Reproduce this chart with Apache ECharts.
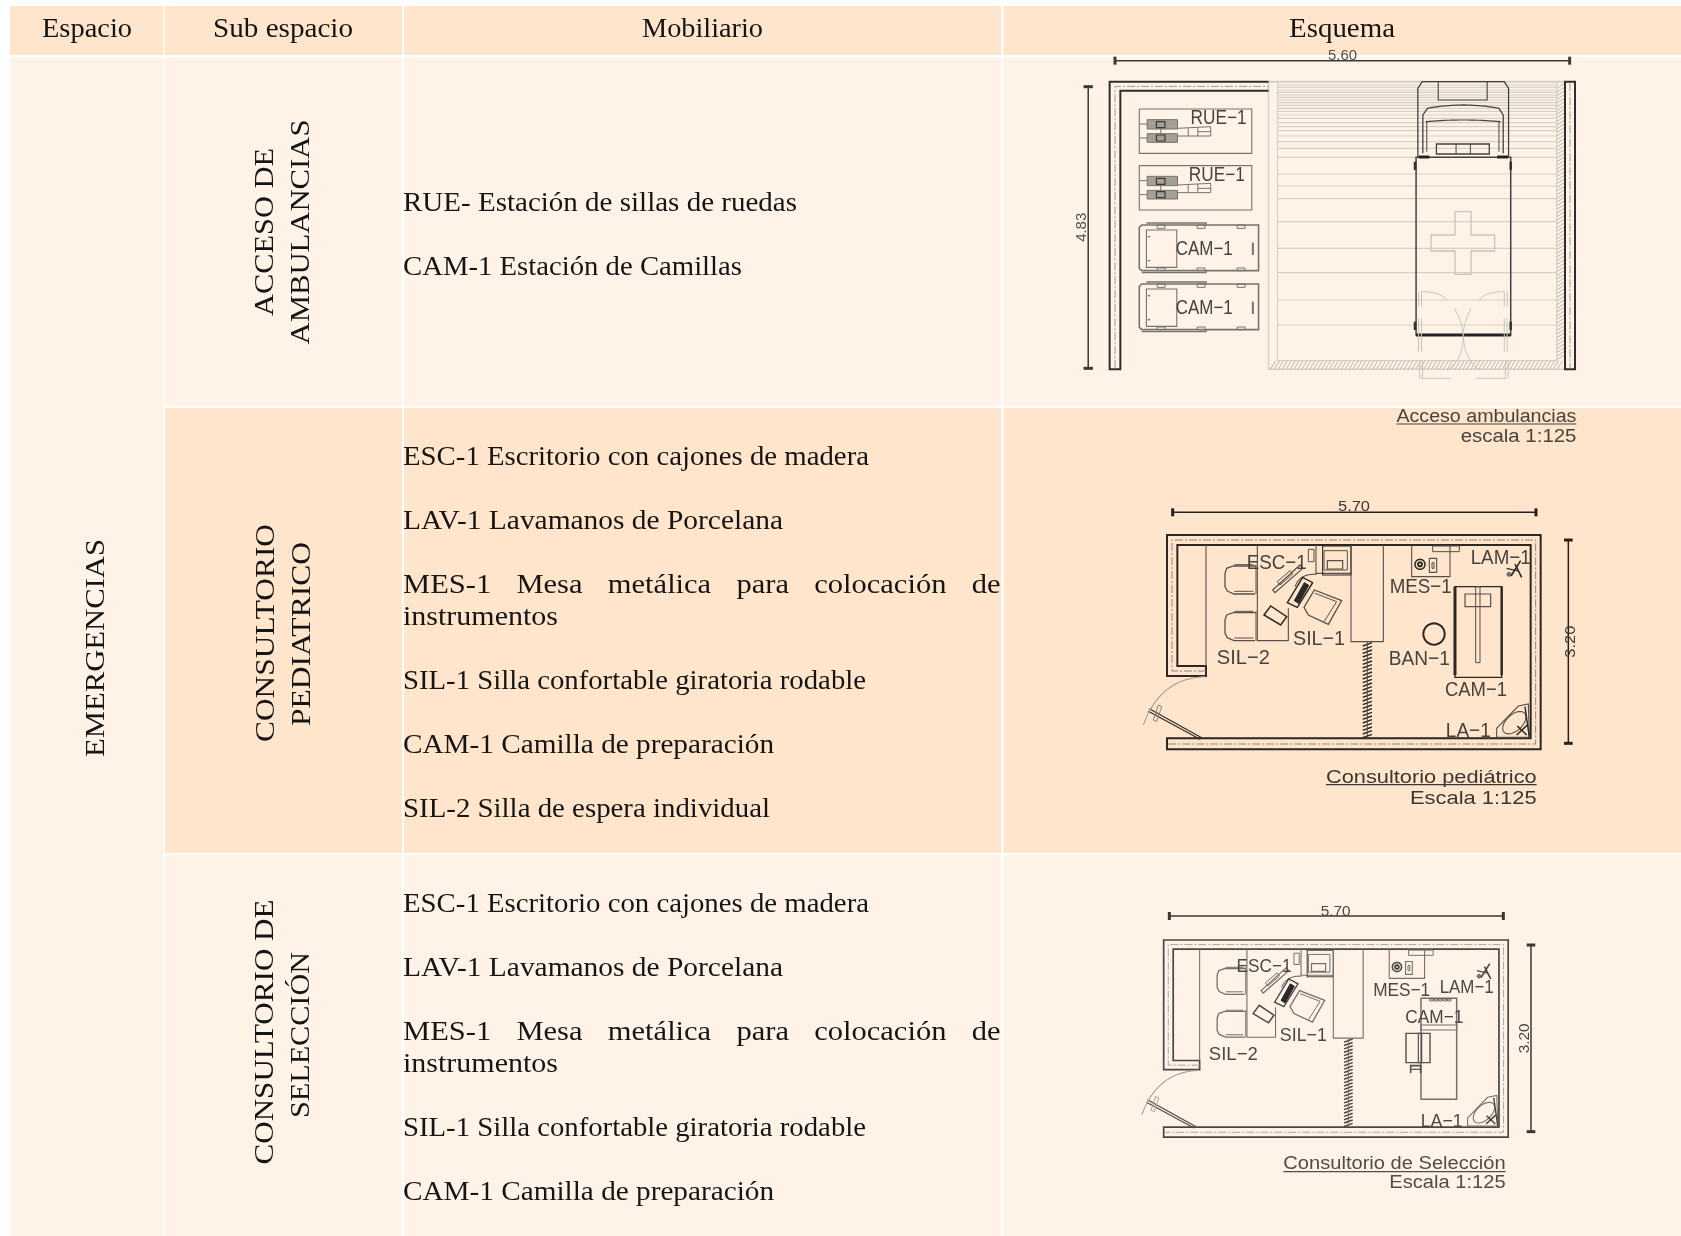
<!DOCTYPE html>
<html><head><meta charset="utf-8">
<style>html,body{margin:0;padding:0;background:#fff}#main{width:1681px;height:1236px;filter:blur(0.45px)}</style>
<script src="https://cdn.jsdelivr.net/npm/echarts@6/dist/echarts.min.js"></script>
</head><body><div id="main"></div>
<script>
// ---------- table content ----------
const columnTitles = ['Espacio', 'Sub espacio', 'Mobiliario', 'Esquema'];
const spaceName = 'EMERGENCIAS';
const subSpaceA = ['ACCESO DE', 'AMBULANCIAS'];
const subSpaceB = ['CONSULTORIO', 'PEDIATRICO'];
const subSpaceC = ['CONSULTORIO DE', 'SELECCIÓN'];
const furnitureA = ['RUE- Estación de sillas de ruedas', 'CAM-1 Estación de Camillas'];
const furnitureB = ['ESC-1 Escritorio con cajones de madera', 'LAV-1 Lavamanos de Porcelana',
  'MES-1 Mesa metálica para colocación de|instrumentos', 'SIL-1 Silla confortable giratoria rodable',
  'CAM-1 Camilla de preparación', 'SIL-2 Silla de espera individual'];
const furnitureC = ['ESC-1 Escritorio con cajones de madera', 'LAV-1 Lavamanos de Porcelana',
  'MES-1 Mesa metálica para colocación de|instrumentos', 'SIL-1 Silla confortable giratoria rodable',
  'CAM-1 Camilla de preparación'];
const captionA = ['Acceso ambulancias', 'escala 1:125'];
const captionB = ['Consultorio pediátrico', 'Escala 1:125'];
const captionC = ['Consultorio de Selección', 'Escala 1:125'];
const dimensionsA = ['5.60', '4.83'];
const dimensionsB = ['5.70', '3.20'];
const dimensionsC = ['5.70', '3.20'];

// ---------- scene buffers ----------
const HEAD = '#FFE5CC', LIGHT = '#FFF3E8';
const cells = [], strokes = [], texts = [];
const cv = document.createElement('canvas').getContext('2d');
function natural(t, font) { cv.font = font; return cv.measureText(t).width; }
const SERIF = '"Liberation Serif"', SANS = '"Liberation Sans"';
function put(t, x, y, o) {
  const size = o.size, fam = o.fam || SERIF, font = size + 'px ' + fam;
  const n = natural(t, font);
  texts.push({ t, x, y, font, sx: o.w ? o.w / n : (o.k || 1), rot: o.rot || 0,
    align: o.align || 'center', fill: o.fill || '#151515' });
}
function cell(x0, y0, x1, y1, fill) { cells.push({ x0, y0, x1, y1, fill }); }

// ---------- table ----------
const colL = [10, 165, 404, 1003.5], colR = [163.5, 402, 1001, 1681];
const headTop = 6, headBot = 55, bodyTop = 57.5;
const rowTop = [57.5, 408, 855], rowBot = [406, 853, 1236];
columnTitles.forEach((_, i) => cell(colL[i], headTop, colR[i], headBot, HEAD));
cell(colL[0], bodyTop, colR[0], 1236, LIGHT);
for (let c = 1; c < 4; c++) rowTop.forEach((t, r) => cell(colL[c], t, colR[c], rowBot[r], r === 1 ? HEAD : LIGHT));

const EM = 0.24, BODY = 27;
const headX = [87, 283, 702.5, 1342], headW = [90, 140, 121, 106];
columnTitles.forEach((t, i) => put(t, headX[i], 36 - EM * BODY, { size: BODY, w: headW[i] }));

function vertical(t, baseX, cy, len) { put(t, baseX - 0.33 * BODY, cy, { size: BODY, w: len, rot: Math.PI / 2 }); }
vertical(spaceName, 106, 648, 218);
vertical(subSpaceA[0], 275, 232, 168); vertical(subSpaceA[1], 311, 232, 225);
vertical(subSpaceB[0], 276, 633, 218); vertical(subSpaceB[1], 312, 634, 184);
vertical(subSpaceC[0], 275, 1032, 265); vertical(subSpaceC[1], 311, 1035, 166);

const LEFT = 403;
const lineWidths = {
  'RUE- Estación de sillas de ruedas': 394, 'CAM-1 Estación de Camillas': 339,
  'ESC-1 Escritorio con cajones de madera': 466, 'LAV-1 Lavamanos de Porcelana': 380,
  'instrumentos': 155, 'SIL-1 Silla confortable giratoria rodable': 463,
  'CAM-1 Camilla de preparación': 371, 'SIL-2 Silla de espera individual': 367
};
function furnitureColumn(list, firstBase) {
  let b = firstBase;
  list.forEach(entry => {
    const parts = entry.split('|');
    parts.forEach((line, li) => {
      const y = b - EM * BODY;
      if (parts.length > 1 && li === 0) {
        const words = line.split(' ');
        const font = BODY + 'px ' + SERIF, kw = 1.13;
        const ws = words.map(w => natural(w, font) * kw);
        const gap = (1000.5 - LEFT - ws.reduce((a, v) => a + v, 0)) / (words.length - 1);
        let x = LEFT;
        words.forEach((w, i) => { put(w, x, y, { size: BODY, k: kw, align: 'left' }); x += ws[i] + gap; });
      } else put(line, LEFT, y, { size: BODY, w: lineWidths[line], align: 'left' });
      if (li < parts.length - 1) b += 32;
    });
    b += 64;
  });
}
furnitureColumn(furnitureA, 210);
furnitureColumn(furnitureB, 464);
furnitureColumn(furnitureC, 911);

// ---------- drawing helpers ----------
const P1 = ([x, y]) => [x / 2.8 + 1040, y / 3 + 40];
const P2 = ([x, y]) => [x / 3 + 1120, y / 3 + 490];
const P3raw = ([x, y]) => [x / 3 + 1120, y / 3 + 890];
const P3 = ([x, y]) => P3raw([131 + (x - 141) * 0.922, 150 + (y - 135) * 0.92]);
function line(T, pts, o) {
  o = o || {};
  strokes.push({ pts: pts.map(T), w: o.w || 1, c: o.c || '#555', dash: o.dash, close: !!o.close, fill: o.fill });
}
const rectPts = (a, b, c, d) => [[a, b], [c, b], [c, d], [a, d]];
function rect(T, a, b, c, d, o) { line(T, rectPts(a, b, c, d), Object.assign({ close: true }, o)); }
function ring(cx, cy, rx, ry, rot) {
  const p = [], r = rot || 0;
  for (let i = 0; i < 36; i++) {
    const a = i / 36 * 2 * Math.PI, ex = rx * Math.cos(a), ey = ry * Math.sin(a);
    p.push([cx + ex * Math.cos(r) - ey * Math.sin(r), cy + ex * Math.sin(r) + ey * Math.cos(r)]);
  }
  return p;
}
function curve(a, c, b) {
  const p = [];
  for (let i = 0; i <= 20; i++) {
    const t = i / 20, u = 1 - t;
    p.push([u * u * a[0] + 2 * u * t * c[0] + t * t * b[0], u * u * a[1] + 2 * u * t * c[1] + t * t * b[1]]);
  }
  return p;
}
function label(T, t, cx, cy, len, o) {
  o = o || {};
  const q = T([cx, cy]);
  put(t, q[0] + (o.rot ? 1 : 0), q[1] + (o.rot ? 0 : 2), { size: o.size || 18, fam: SANS, w: len, rot: o.rot, fill: o.fill || '#46433e' });
}
function caption(T, t1, t2, x0a, x0b, x1, base1, under, base2, size, fill) {
  const a = T([x0a, base1]), b = T([x1, under]), c = T([x0b, base2]), e = T([x1, base2]);
  const off = 0.3465 * size - 2;
  put(t1, (a[0] + b[0]) / 2, a[1] - off, { size, fam: SANS, w: b[0] - a[0], fill });
  put(t2, (c[0] + e[0]) / 2, c[1] - off, { size, fam: SANS, w: e[0] - c[0], fill });
  line(T, [[x0a, under], [x1, under]], { w: 1.2, c: fill });
}
function dimH(T, y, x0, x1, c) {
  line(T, [[x0, y], [x1, y]], { w: 1.5, c });
  [x0, x1].forEach(x => line(T, [[x, y - 12], [x, y + 12]], { w: 3, c }));
}
function dimV(T, x, y0, y1, c) {
  line(T, [[x, y0], [x, y1]], { w: 1.5, c });
  [y0, y1].forEach(y => line(T, [[x - 13, y], [x + 13, y]], { w: 3, c }));
}

// ---------- scheme: ambulance access ----------
(function () {
  const T = P1, D = '#3c3a36', M = '#76736c', L = '#d6d0c7';
  [135,142,150,157,165,172,180,188,196,205,214,225,235,248,260,272,288,305,325,352,402,438,476,545,625,698,780,855]
    .forEach(y => line(T, [[665, y], [1447, y]], { c: L, w: 1.2 }));
  line(T, [[640, 125], [1470, 125]], { c: L, w: 2 });
  line(T, [[640, 125], [640, 988], [1470, 988]], { c: L, w: 1.5 });
  line(T, [[665, 125], [665, 962], [1447, 962], [1447, 125]], { c: L, w: 1.2 });
  for (let x = 645; x < 1450; x += 11) line(T, [[x, 988], [x + 15, 962]], { c: '#bdb7ad', w: 1 });
  for (let y = 130; y < 955; y += 11) line(T, [[1447, y + 15], [1470, y]], { c: '#bdb7ad', w: 1 });
  // walls
  line(T, [[640, 125], [195, 125], [195, 988], [225, 988], [225, 152], [640, 152]], { c: '#2f2e2b', w: 2 });
  line(T, [[210, 985], [210, 139], [640, 139]], { c: '#9b9890', w: 1, dash: [8, 2, 2, 2] });
  rect(T, 1470, 125, 1498, 988, { c: '#2f2e2b', w: 2 });
  line(T, [[1484, 130], [1484, 985]], { c: '#9b9890', w: 1, dash: [8, 2, 2, 2] });
  // dimensions
  dimH(T, 62, 210, 1483, '#3a3a36');
  dimV(T, 135, 140, 985, '#3a3a36');
  label(T, dimensionsA[0], 847, 43, 29, { size: 14, fill: '#55524c' });
  label(T, dimensionsA[1], 116, 562, 29, { size: 14, rot: Math.PI / 2, fill: '#55524c' });
  // wheelchair stations
  [0, 170].forEach((dy, i) => {
    rect(T, 278, 207 + dy, 593, 340 + dy, { c: M, w: 1.1 });
    rect(T, 300, 239 + dy, 385, 267 + dy, { c: '#77736c', w: 1, fill: '#a5a095' });
    rect(T, 300, 281 + dy, 385, 307 + dy, { c: '#77736c', w: 1, fill: '#a5a095' });
    rect(T, 326, 245 + dy, 350, 263 + dy, { c: D, w: 1.2 });
    rect(T, 326, 285 + dy, 350, 303 + dy, { c: D, w: 1.2 });
    line(T, [[280, 252 + dy], [300, 252 + dy]], { c: M });
    line(T, [[280, 294 + dy], [300, 294 + dy]], { c: M });
    line(T, [[338, 265 + dy], [338, 283 + dy]], { c: M });
    line(T, [[385, 265 + dy], [478, 260 + dy], [478, 288 + dy], [385, 288 + dy]], { c: M });
    line(T, [[415, 265 + dy], [415, 288 + dy]], { c: M });
    line(T, [[442, 275 + dy], [478, 275 + dy]], { c: M });
    line(T, [[442, 262 + dy], [442, 288 + dy]], { c: M });
    label(T, 'RUE−1', 500 - i * 5, 230 + dy, 56, { size: 20 });
  });
  // stretcher stations
  [0, 177].forEach(dy => {
    line(T, [[285, 555 + dy], [612, 555 + dy], [612, 692 + dy], [285, 692 + dy], [278, 685 + dy], [278, 562 + dy]], { c: M, w: 1.6, close: true });
    rect(T, 298, 570 + dy, 383, 682 + dy, { c: M, w: 1.1 });
    line(T, [[298, 549 + dy], [465, 549 + dy], [465, 555 + dy]], { c: M, w: 1.4 });
    line(T, [[285, 698 + dy], [465, 698 + dy], [465, 692 + dy]], { c: M, w: 1.4 });
    [328, 440, 552].forEach(x => {
      rect(T, x, 555 + dy, x + 22, 565 + dy, { c: M });
      rect(T, x, 684 + dy, x + 22, 692 + dy, { c: M });
    });
    line(T, [[596, 608 + dy], [596, 645 + dy]], { c: M, w: 2 });
    line(T, [[302, 590 + dy], [308, 590 + dy]], { c: M, w: 1.5 });
    line(T, [[302, 662 + dy], [308, 662 + dy]], { c: M, w: 1.5 });
    label(T, 'CAM−1', 460, 622 + dy, 57, { size: 20 });
  });
  // ambulance
  const A = '#44423e';
  line(T, [[1058, 350], [1058, 145], [1070, 125], [1300, 125], [1312, 145], [1312, 350]], { c: A, w: 1.3 });
  line(T, [[1115, 125], [1115, 180], [1252, 180], [1252, 125]], { c: A, w: 1.1 });
  line(T, [[1072, 340], [1072, 225], [1085, 205]].concat(curve([1085, 205], [1185, 185], [1285, 205]), [[1297, 225], [1297, 340]]), { c: A, w: 1.3 });
  line(T, curve([1080, 245], [1185, 235], [1290, 245]), { c: A, w: 1.2 });
  line(T, [[1083, 335], [1083, 245]], { c: A }); line(T, [[1285, 335], [1285, 245]], { c: A });
  rect(T, 1110, 312, 1258, 342, { c: A, w: 1.3 });
  line(T, [[1165, 312], [1165, 342]], { c: A }); line(T, [[1205, 312], [1205, 342]], { c: A });
  rect(T, 1053, 352, 1318, 885, { c: A, w: 1.5 });
  line(T, [[1053, 885], [1318, 885]], { c: '#222', w: 3 });
  line(T, [[1060, 351], [1090, 351]], { c: '#222', w: 3 }); line(T, [[1280, 351], [1310, 351]], { c: '#222', w: 3 });
  [[1050, 365], [1318, 365], [1050, 845], [1318, 845]].forEach(([x, y]) => line(T, [[x, y], [x, y + 25]], { c: '#333', w: 2.5 }));
  // pale cross and doors
  const G = '#c9c4bb';
  line(T, [[1162,515],[1207,515],[1207,585],[1273,585],[1273,633],[1207,633],[1207,703],[1162,703],[1162,633],[1095,633],[1095,585],[1162,585]], { c: G, w: 1.3, close: true });
  [[1060, 1068], [1300, 1308]].forEach(pair => pair.forEach(x => {
    line(T, [[x, 755], [x, 800]], { c: G, w: 1 });
    line(T, [[x, 835], [x, 935]], { c: G, w: 1 });
    line(T, [[x + 3, 965], [x + 3, 1015]], { c: G, w: 1 });
  }));
  line(T, [[1065, 1015], [1150, 1015]], { c: G }); line(T, [[1220, 1015], [1305, 1015]], { c: G });
  line(T, curve([1068, 755], [1120, 755], [1140, 780]), { c: G, w: 1 });
  line(T, curve([1300, 755], [1250, 755], [1228, 780]), { c: G, w: 1 });
  line(T, curve([1160, 805], [1185, 850], [1185, 890]), { c: G, w: 1 });
  line(T, curve([1207, 805], [1185, 850], [1185, 890]), { c: G, w: 1 });
  line(T, curve([1185, 890], [1185, 960], [1140, 990]), { c: G, w: 1 });
  line(T, curve([1185, 890], [1190, 960], [1230, 990]), { c: G, w: 1 });
  caption(T, captionA[0], captionA[1], 998, 1178, 1502, 1145, 1152, 1205, 18, '#47443f');
})();

// ---------- scheme: rooms (shared shell and left half) ----------
function roomShell(T, D, M, G, W) {
  line(T, [[258,558],[141,558],[141,135],[1262,135],[1262,778],[141,778],[141,745],[1232,745],[1232,165],[172,165],[172,528],[258,528]], { c: D, w: W, close: true });
  line(T, [[258,543],[156,543],[156,150],[1247,150],[1247,762],[145,762]], { c: G, w: 1, dash: [8, 2, 2, 2] });
  line(T, [[258,165],[258,528]], { c: M, w: 1.1 });
  // desk and partition
  line(T, [[412,165],[412,452],[505,452],[505,355]], { c: M, w: 1.1 });
  line(T, [[588,165],[588,250],[693,250]], { c: M, w: 1.1 });
  rect(T, 608, 168, 693, 255, { c: D, w: 1.1 });
  line(T, [[693,165],[693,455],[790,455],[790,165]], { c: M, w: 1.1 });
  line(T, curve([590,253],[540,250],[525,290]), { c: M, w: 1.1 });
  rect(T, 565, 178, 582, 215, { c: M });
  rect(T, 612, 182, 682, 240, { c: M });
  rect(T, 622, 212, 668, 237, { c: M, w: 1.2 });
  for (let y = 462; y < 742; y += 11) line(T, [[728, y + 6], [756, y - 4]], { c: D, w: 1.5 });
  line(T, [[742, 455], [742, 745]], { c: M });
  // waiting chairs
  [0, 140].forEach(dy => {
    line(T, [[408,228+dy],[340,228+dy],[320,235+dy],[315,250+dy],[315,290+dy],[322,303+dy],[342,312+dy],[405,312+dy]], { c: M, w: 1.3 });
    line(T, [[343,224+dy],[400,224+dy]], { c: M }); line(T, [[343,304+dy],[400,304+dy]], { c: M });
    line(T, [[408,224+dy],[408,312+dy]], { c: M });
  });
  // desk items and computer
  line(T, [[458,300],[540,225],[548,235],[465,308]], { c: M, w: 1.2, close: true });
  line(T, [[472,275],[510,242],[518,252],[480,285]], { c: M, close: true });
  line(T, [[432,375],[452,348],[500,380],[482,405]], { c: D, w: 1.5, close: true });
  line(T, [[502,338],[548,262],[578,278],[532,352]], { c: D, w: 1.4, close: true });
  line(T, [[523,332],[553,278],[566,286],[536,340]], { c: '#222', w: 1, close: true, fill: '#2a2a2a' });
  // swivel chair
  line(T, [[552,352],[583,300],[665,332],[625,403],[565,375]], { c: M, w: 1.3, close: true });
  line(T, [[585,310],[650,335],[612,395]], { c: M });
  // exam side
  line(T, [[875,165],[875,260],[990,260],[990,165]], { c: M, w: 1.1 });
  rect(T, 938, 168, 1018, 185, { c: M });
  line(T, ring(900, 223, 15, 15), { c: D, w: 1.5, close: true });
  line(T, ring(900, 223, 6, 6), { c: D, w: 2, close: true });
  rect(T, 928, 205, 950, 247, { c: M, w: 1.1 });
  rect(T, 936, 218, 942, 235, { c: M });
  // sink
  line(T, [[1130,742],[1130,715],[1195,648],[1225,642],[1228,742]], { c: M, w: 1.1, close: true });
  line(T, ring(1183, 698, 42, 24, -0.75), { c: M, w: 1.1, close: true });
  line(T, [[1190,735],[1222,705]], { c: D, w: 1.6 }); line(T, [[1192,708],[1220,735]], { c: D, w: 1.6 });
  line(T, [[1215,650],[1228,742]], { c: D, w: 1.4 });
  // door
  line(T, [[88,656],[245,743]], { c: D, w: 1.1 }); line(T, [[85,664],[240,748]], { c: D, w: 1.1 });
  line(T, [[100,690],[110,695],[125,650],[115,645]], { c: G, close: true });
  line(T, curve([255, 560], [120, 565], [70, 705]), { c: '#a3a098', w: 1.1 });
}
function lamp(T, dx, dy, D) {
  line(T, [[1185+dx,222+dy],[1205+dx,262+dy]], { c: D, w: 1.6 });
  line(T, [[1173+dx,258+dy],[1202+dx,212+dy]], { c: D, w: 1.6 });
  line(T, [[1160+dx,235+dy],[1195+dx,243+dy]], { c: D, w: 1.2 });
  line(T, ring(1167+dx, 253+dy, 6, 6), { c: '#555', close: true, fill: '#777' });
}

// ---------- scheme: pediatric room ----------
(function () {
  const T = P2, D = '#2a2724', M = '#55514b', G = '#8a857c';
  roomShell(T, D, M, G, 2);
  lamp(T, 0, 0, D);
  dimH(T, 67, 158, 1248, '#24211e');
  dimV(T, 1345, 150, 760, '#24211e');
  label(T, dimensionsB[0], 702, 45, 32, { size: 15, fill: '#3b3834' });
  label(T, dimensionsB[1], 1350, 455, 32, { size: 15, rot: Math.PI / 2, fill: '#3b3834' });
  line(T, ring(942, 432, 32, 32), { c: D, w: 2, close: true });
  rect(T, 1005, 290, 1145, 562, { c: D, w: 1.4 });
  line(T, [[1005, 290], [1005, 555]], { c: D, w: 3 }); line(T, [[1145, 290], [1145, 555]], { c: D, w: 2.4 });
  rect(T, 1067, 290, 1080, 518, { c: M });
  rect(T, 1035, 312, 1112, 350, { c: M, w: 1.2 });
  [['ESC−1',470,215,60],['LAM−1',1142,200,60],['MES−1',902,287,62],['SIL−1',597,442,52],['SIL−2',370,500,53],
   ['BAN−1',898,503,61],['CAM−1',1068,595,62],['LA−1',1045,718,45]].forEach(l => label(T, l[0], l[1], l[2], l[3], { size: 21 }));
  caption(T, captionB[0], captionB[1], 618, 870, 1250, 878, 884, 940, 19, '#3a3632');
})();

// ---------- scheme: selection room ----------
(function () {
  const D = '#4a4641', M = '#75716a', G = '#aaa59c';
  roomShell(P3, D, M, G, 1.7);
  const T = P3raw;
  lamp(P3, 0, 0, D);
  dimH(T, 78, 148, 1150, '#3a3733');
  dimV(T, 1233, 165, 725, '#3a3733');
  label(T, dimensionsC[0], 647, 60, 30, { size: 14, fill: '#4b4843' });
  label(T, dimensionsC[1], 1212, 445, 30, { size: 14, rot: Math.PI / 2, fill: '#4b4843' });
  rect(T, 903, 325, 1010, 628, { c: M, w: 1.5 });
  rect(T, 903, 405, 1010, 420, { c: M, w: 1.2 });
  for (let x = 930; x < 985; x += 13) line(T, ring(x + 5, 330, 7, 3), { c: D, close: true });
  rect(T, 858, 430, 930, 518, { c: '#55514b', w: 1.4 });
  rect(T, 895, 430, 905, 518, { c: '#55514b', w: 1.2 });
  line(T, [[872, 550], [872, 527], [902, 527], [902, 550]], { c: '#55514b', w: 1.6 });
  line(T, [[872, 538], [902, 538]], { c: '#55514b', w: 1.2 });
  [['ESC−1',432,225,55],['MES−1',845,295,57],['LAM−1',1040,287,54],['CAM−1',943,378,58],['SIL−1',550,432,47],
   ['SIL−2',340,487,49],['LA−1',965,688,42]].forEach(l => label(T, l[0], l[1], l[2], l[3], { size: 19, fill: '#4b4843' }));
  caption(T, captionC[0], captionC[1], 490, 808, 1157, 835, 845, 893, 18, '#504c47');
})();

// ---------- chart ----------
const chart = echarts.init(document.getElementById('main'), null, { renderer: 'canvas' });
const idx = a => a.map(() => [0, 0]);
const base = { type: 'custom', coordinateSystem: 'cartesian2d', silent: true, animation: false, clip: false, progressive: 0 };
chart.setOption({
  animation: false,
  backgroundColor: '#ffffff',
  grid: { left: 0, right: 0, top: 0, bottom: 0 },
  xAxis: { type: 'value', min: 0, max: 1681, show: false },
  yAxis: { type: 'value', min: 0, max: 1236, inverse: true, show: false },
  tooltip: { show: false },
  series: [
    Object.assign({}, base, { name: 'cells', z: 1, data: idx(cells), renderItem(p, api) {
      const c = cells[p.dataIndex], a = api.coord([c.x0, c.y0]), b = api.coord([c.x1, c.y1]);
      return { type: 'rect', shape: { x: a[0], y: a[1], width: b[0] - a[0], height: b[1] - a[1] }, style: { fill: c.fill } };
    } }),
    Object.assign({}, base, { name: 'schemes', z: 2, data: idx(strokes), renderItem(p, api) {
      const s = strokes[p.dataIndex], pts = s.pts.map(q => api.coord(q));
      return { type: s.close ? 'polygon' : 'polyline', shape: { points: pts },
        style: { stroke: s.c, lineWidth: s.w, fill: s.fill || null, lineDash: s.dash || null, lineJoin: 'miter' } };
    } }),
    Object.assign({}, base, { name: 'texts', z: 3, data: idx(texts), renderItem(p, api) {
      const t = texts[p.dataIndex], q = api.coord([t.x, t.y]);
      return { type: 'text', x: q[0], y: q[1], rotation: t.rot, scaleX: t.sx,
        style: { text: t.t, x: 0, y: 0, font: t.font, fill: t.fill, align: t.align, verticalAlign: 'middle' } };
    } })
  ]
});
</script></body></html>
